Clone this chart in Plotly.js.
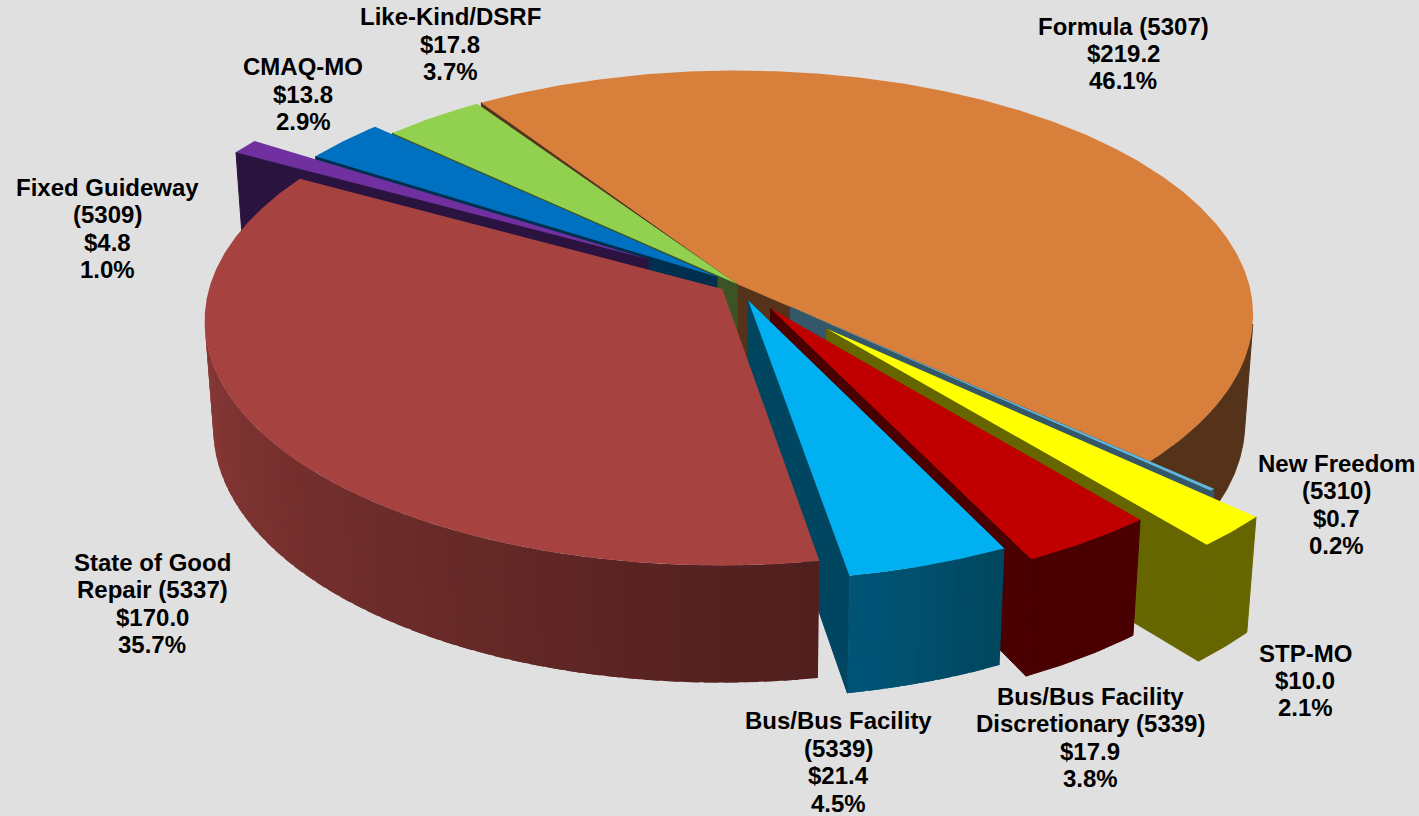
<!DOCTYPE html>
<html><head><meta charset="utf-8">
<script src="https://cdn.plot.ly/plotly-3.0.1.min.js"></script>
<style>html,body{margin:0;padding:0;background:#E0E0E0;overflow:hidden}#chart{width:1419px;height:816px}</style>
</head><body><div id="chart"></div>
<script>
// ---- data (clockwise from the Formula slice) ----
const categories = ["Formula (5307)","New Freedom (5310)","STP-MO","Bus/Bus Facility Discretionary (5339)","Bus/Bus Facility (5339)","State of Good Repair (5337)","Fixed Guideway (5309)","CMAQ-MO","Like-Kind/DSRF"];
const labelLines = [["Formula (5307)"],["New Freedom","(5310)"],["STP-MO"],["Bus/Bus Facility","Discretionary (5339)"],["Bus/Bus Facility","(5339)"],["State of Good","Repair (5337)"],["Fixed Guideway","(5309)"],["CMAQ-MO"],["Like-Kind/DSRF"]];
const amounts = [219.2,0.7,10.0,17.9,21.4,170.0,4.8,13.8,17.8];
const shares = [46.1,0.2,2.1,3.8,4.5,35.7,1.0,2.9,3.7];

// ---- styles ----
const topColors  = ["#D97F3C","#5FB8DC","#FFFF00","#C00000","#00B0F0","#A64340","#7030A0","#0070C0","#92D050"];
const wallColors = ["#54331A","#34586A","#666600","#4A0000","#004660","#6A2A28","#2B133F","#002F4F","#3C5423"];
const sideStart  = ["#54331A","#34586A","#666600","#4A0000","#00465F","#4F1F1E","#2B133F","#002F4F","#3C5423"];
const sideEnd    = ["#54331A","#34586A","#666600","#4A0000","#005678","#A04340","#2B133F","#002F4F","#3C5423"];
const explode    = [0,0.14,0.25,0.12,0.07,0.035,0.205,0.05,0];
const endGapDeg  = [0,0,0,0,0,0,0,0,0.6];
const drawOrder  = [0,1,2,3,4,8,7,6,5];
const labelX = [1123,1336,1305,1090,838,152,107,303,450];
const labelY = [53.5,504.5,680.5,737.5,762,603.5,228.5,94,44];

// ---- projection of the pie's 3D geometry ----
const cx=737, cy=284, scale=512, tilt=28*Math.PI/180, dist=7, depth=0.24, startDeg=-33.5;
const rad=d=>d*Math.PI/180;
function project(X,Y,Z){
  const yv=Y*Math.sin(tilt)+Z*Math.cos(tilt), dv=Y*Math.cos(tilt)-Z*Math.sin(tilt);
  const p=dist/(dist+dv);
  return [cx+scale*X*p, cy-scale*yv*p];
}
const hex=c=>[1,3,5].map(i=>parseInt(c.substr(i,2),16));
function mix(a,b,t){const A=hex(a),B=hex(b);return "rgb("+A.map((v,i)=>Math.round(v+(B[i]-v)*t)).join(",")+")";}
const cross3=(A,B,C)=>(B[0]-A[0])*(C[1]-B[1])-(B[1]-A[1])*(C[0]-B[0]);
const total=amounts.reduce((a,b)=>a+b,0);
const traces=[];
function poly(pts,color,name,lw){
  const xs=pts.map(p=>p[0]).concat(pts[0][0]), ys=pts.map(p=>p[1]).concat(pts[0][1]);
  traces.push({type:"scatter",mode:"lines",x:xs,y:ys,fill:"toself",fillcolor:color,
    line:{color:color,width:lw||0},hoverinfo:"text",text:name,showlegend:false});
}
let cum=startDeg; const spans=amounts.map(v=>{const a=cum;cum+=v/total*360;return [a,cum];});
drawOrder.forEach(i=>{
  const a0=spans[i][0], a1=spans[i][1]-endGapDeg[i], bis=rad((spans[i][0]+spans[i][1])/2), e=explode[i];
  const ox=e*Math.sin(bis), oy=e*Math.cos(bis);
  const P=(deg,r,z)=>project(ox+r*Math.sin(rad(deg)),oy+r*Math.cos(rad(deg)),z);
  // radial walls that face the viewer
  [[a0,-1],[a1,1]].forEach(([a,sign])=>{
    if(cross3(P(a,0,0),P(a,1,0),P(a,1,-depth))*sign>0)
      poly([P(a,0,0),P(a,1,0),P(a,1,-depth),P(a,0,-depth)],wallColors[i],categories[i],1);
  });
  // outer side: only the segments that face the viewer
  const uniform=sideStart[i]===sideEnd[i];
  const n=Math.max(1,Math.ceil((a1-a0)/(uniform?0.5:2)));
  const up=[],lo=[];
  for(let k=0;k<n;k++){
    const s=a0+(a1-a0)*k/n,t0=a0+(a1-a0)*(k+1)/n,t=Math.min(a1,t0+1.5);
    if(cross3(P(s,1,0),P(t0,1,0),P(t0,1,-depth))>=0) continue;
    if(uniform){
      if(!up.length){up.push(P(s,1,0));lo.unshift(P(s,1,-depth));}
      up.push(P(t0,1,0));lo.unshift(P(t0,1,-depth));
    }else{
      poly([P(s,1,0),P(t,1,0),P(t,1,-depth),P(s,1,-depth)],mix(sideStart[i],sideEnd[i],(k+.5)/n),categories[i]);
    }
  }
  if(up.length) poly(up.concat(lo),sideStart[i],categories[i],1);
  // top face
  const top=[P(a0,0,0)],m=Math.max(2,Math.ceil((a1-a0)/0.5));
  for(let k=0;k<=m;k++)top.push(P(a0+(a1-a0)*k/m,1,0));
  poly(top,topColors[i],categories[i]);
});
const lineStep=27.4;
const annotations=[];
categories.forEach((c,i)=>{
  const lines=labelLines[i].concat(["$"+amounts[i].toFixed(1),shares[i].toFixed(1)+"%"]);
  lines.forEach((t,j)=>annotations.push({
    xref:"x",yref:"y",x:labelX[i],y:labelY[i]+(j-(lines.length-1)/2)*lineStep,xanchor:"center",yanchor:"middle",align:"center",showarrow:false,
    text:"<b>"+t+"</b>",font:{family:"Liberation Sans, Arial, sans-serif",size:24,color:"#000"}
  }));
});
Plotly.newPlot("chart",traces,{
  width:1419,height:816,margin:{l:0,r:0,t:0,b:0},paper_bgcolor:"#E0E0E0",plot_bgcolor:"#E0E0E0",showlegend:false,
  xaxis:{range:[0,1419],visible:false,fixedrange:true},
  yaxis:{range:[816,0],visible:false,fixedrange:true},
  annotations:annotations
},{displayModeBar:false,staticPlot:true});
</script></body></html>
